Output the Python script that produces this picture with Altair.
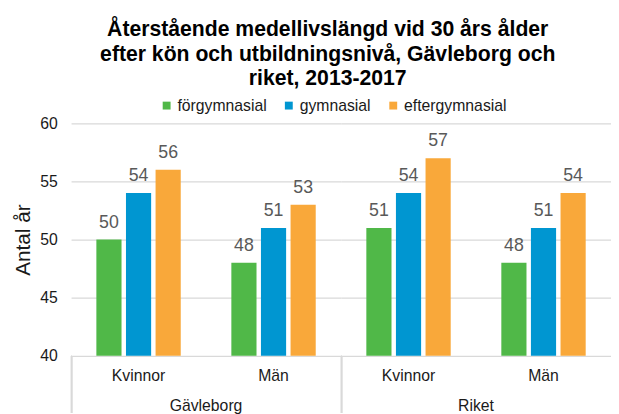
import altair as alt
import pandas as pd

regions = ["Gävleborg", "Riket"]
sexes = ["Kvinnor", "Män"]
levels = ["förgymnasial", "gymnasial", "eftergymnasial"]
gavleborg_kvinnor = [50, 54, 56]
gavleborg_man = [48, 51, 53]
riket_kvinnor = [51, 54, 57]
riket_man = [48, 51, 54]
colors = ["#50B848", "#0096D1", "#F9A83A"]
y_ticks = [40, 45, 50, 55, 60]

series = {
    ("Gävleborg", "Kvinnor"): gavleborg_kvinnor,
    ("Gävleborg", "Män"): gavleborg_man,
    ("Riket", "Kvinnor"): riket_kvinnor,
    ("Riket", "Män"): riket_man,
}
rows = []
for (reg, sex), vals in series.items():
    for lev, v in zip(levels, vals):
        rows.append({"Region": reg, "Kön": sex, "Nivå": lev, "Värde": v})
df = pd.DataFrame(rows)

FONT = "Liberation Sans"
H = 236

x_enc = alt.X(
    "Kön:N",
    sort=sexes,
    scale=alt.Scale(paddingInner=0.375, paddingOuter=0.1875),
    axis=alt.Axis(
        title=None, labelAngle=0, labelFontSize=16, labelColor="#1a1a1a",
        domain=False, ticks=False, labelPadding=12, labelFont=FONT,
    ),
)
xo_enc = alt.XOffset("Nivå:N", sort=levels, scale=alt.Scale(paddingInner=0.15, paddingOuter=0))
y_enc = alt.Y(
    "Värde:Q",
    scale=alt.Scale(domain=[40, 60], zero=False, nice=False),
    axis=alt.Axis(
        values=y_ticks, title="Antal år", titleFontSize=21, titleFontWeight="normal",
        titleColor="#1a1a1a", titleFont=FONT, titleX=-48, titleY=H / 2,
        titleBaseline="middle",
        labelFontSize=16, labelColor="#1a1a1a", labelFont=FONT, labelPadding=14,
        domain=False, ticks=False, grid=True, gridColor="#d9d9d9", gridWidth=1.3,
    ),
)

bars = alt.Chart().mark_bar(clip=True).encode(
    x=x_enc,
    xOffset=xo_enc,
    y=y_enc,
    color=alt.Color(
        "Nivå:N", sort=levels,
        scale=alt.Scale(domain=levels, range=colors),
        legend=alt.Legend(
            title=None, orient="none", direction="horizontal", columns=3,
            gridAlign="none",
            legendX=89, legendY=-26, symbolType="square", symbolSize=64,
            symbolStrokeWidth=0, labelFontSize=16, labelFont=FONT, labelColor="#1a1a1a",
            labelOffset=3, columnPadding=14,
        ),
    ),
)

labels = alt.Chart().mark_text(
    baseline="alphabetic", dy=-12, fontSize=18, font=FONT, color="#595959"
).encode(
    x=x_enc, xOffset=xo_enc, y=y_enc, text="Värde:Q"
)

sep = alt.Chart().mark_rule(color="#d9d9d9", strokeWidth=1.3).encode(
    x=alt.value(0.5), y=alt.value(H), y2=alt.value(H + 58)
)

layered = alt.layer(bars, labels, sep, data=df).properties(width=274, height=H)

chart = layered.facet(
    column=alt.Column(
        "Region:N", sort=regions,
        header=alt.Header(
            title=None, labelOrient="bottom", labelFontSize=16, labelFont=FONT,
            labelColor="#1a1a1a", labelPadding=15,
        ),
    ),
    spacing=0,
    bounds="flush",
).properties(
    title=alt.Title(
        ["Återstående medellivslängd vid 30 års ålder",
         "efter kön och utbildningsnivå, Gävleborg och",
         "riket, 2013-2017"],
        fontSize=21.5, font=FONT, fontWeight="bold", color="#000000",
        lineHeight=25, anchor="middle", dx=16, offset=8,
    ),
    padding={"left": 5, "top": 8, "right": 0, "bottom": 0},
).configure_view(stroke=None)

chart.save("out.html", embed_options={"renderer": "svg", "actions": False})
